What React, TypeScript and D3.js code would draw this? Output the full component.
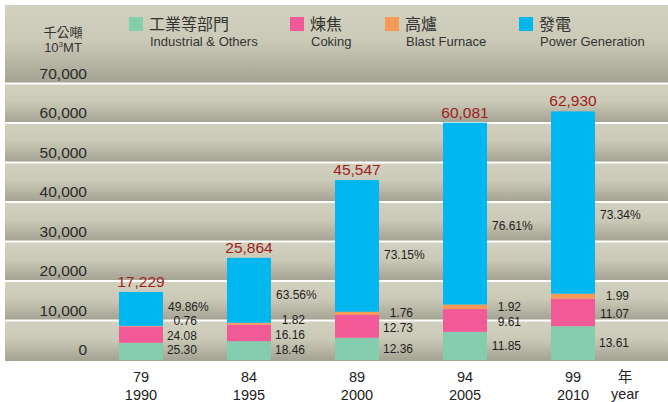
import React from "react";
import * as d3 from "d3";

const rocYears = ["79", "84", "89", "94", "99"];
const years = ["1990", "1995", "2000", "2005", "2010"];
const totals = [17229, 25864, 45547, 60081, 62930];
const industrialPct = [25.3, 18.46, 12.36, 11.85, 13.61];
const cokingPct = [24.08, 16.16, 12.73, 9.61, 11.07];
const blastPct = [0.76, 1.82, 1.76, 1.92, 1.99];
const powerPct = [49.86, 63.56, 73.15, 76.61, 73.34];
const yTicks = [0, 10000, 20000, 30000, 40000, 50000, 60000, 70000];

const keys = ["industrial", "coking", "blast", "power"];
const seriesNames = [
  { zh: "工業等部門", en: "Industrial & Others" },
  { zh: "煉焦", en: "Coking" },
  { zh: "高爐", en: "Blast Furnace" },
  { zh: "發電", en: "Power Generation" },
];
const colors = ["#84cdae", "#f25a97", "#f79a58", "#00b8ef"];
const legendX = [129, 290, 385, 519];

const W = 668;
const H = 402;
const FONT = "'Liberation Sans', Arial, sans-serif";
const CJK = "'Noto Sans CJK TC', 'Noto Sans CJK SC', sans-serif";

export default function App() {
  const panelLeft = 5;
  const panelTop = 5;
  const y = d3.scaleLinear().domain([0, 70000]).range([360, 83.5]);
  const x = d3.scaleBand<string>().domain(years).range([87, 627]).paddingInner(0.5926).paddingOuter(0.296);

  const rows = years.map((yr, i) => ({
    year: yr,
    industrial: (totals[i] * industrialPct[i]) / 100,
    coking: (totals[i] * cokingPct[i]) / 100,
    blast: (totals[i] * blastPct[i]) / 100,
    power: (totals[i] * powerPct[i]) / 100,
  }));
  const stacked = d3.stack<any>().keys(keys)(rows);
  const pctArrays = [industrialPct, cokingPct, blastPct, powerPct];

  // bands between gridlines
  const bandEdges = [panelTop, ...yTicks.slice(1).reverse().map((t) => y(t)), y(0)];
  // bandEdges: top, 70k, 60k, ... 10k, 0
  const bands: [number, number][] = [];
  const edgesSorted = [panelTop, ...yTicks.slice(1).map((t) => y(t)).sort((a, b) => a - b), y(0) + 1];
  for (let i = 0; i < edgesSorted.length - 1; i++) bands.push([edgesSorted[i], edgesSorted[i + 1]]);
  void bandEdges;

  return (
    <svg
      width={W}
      height={H}
      style={{ position: "absolute", left: 0, top: 0, display: "block" }}
      fontFamily={FONT}
    >
      <defs>
        <linearGradient id="band" x1="0" y1="0" x2="0" y2="1">
          <stop offset="0%" stopColor="#d2d1bf" />
          <stop offset="45%" stopColor="#cbcab8" />
          <stop offset="100%" stopColor="#a3a191" />
        </linearGradient>
      </defs>
      <rect x={0} y={0} width={W} height={H} fill="#ffffff" />
      {bands.map(([a, b], i) => (
        <rect key={i} x={panelLeft} y={a} width={W - panelLeft} height={b - a} fill="url(#band)" />
      ))}
      {yTicks.slice(1).map((t) => (
        <rect key={t} x={panelLeft} y={y(t) - 1} width={W - panelLeft} height={2} fill="#ffffff" />
      ))}

      {/* y tick labels */}
      {yTicks.map((t) => (
        <text key={t} x={87} y={y(t) - 5} textAnchor="end" fontSize={15.5} fill="#2a2a2a">
          {d3.format(",")(t)}
        </text>
      ))}

      {/* header unit */}
      <text x={63} y={37} textAnchor="middle" fontSize={13} fontFamily={CJK} fill="#333">
        千公噸
      </text>
      <text x={63} y={52} textAnchor="middle" fontSize={13} fill="#333">
        10<tspan fontSize={8} dy={-5}>3</tspan>
        <tspan dy={5}>MT</tspan>
      </text>

      {/* legend */}
      {seriesNames.map((s, i) => (
        <g key={i}>
          <rect x={legendX[i]} y={17} width={14} height={14} fill={colors[i]} />
          <text x={legendX[i] + 20} y={30} fontSize={16} fontFamily={CJK} fill="#333">
            {s.zh}
          </text>
          <text x={legendX[i] + 21} y={46} fontSize={13} fill="#333">
            {s.en}
          </text>
        </g>
      ))}

      {/* bars */}
      {stacked.map((layer, k) => (
        <g key={layer.key} fill={colors[k]}>
          {layer.map((d, i) => (
            <rect
              key={i}
              x={x(years[i])}
              y={y(d[1])}
              width={x.bandwidth()}
              height={Math.max(0, y(d[0]) - y(d[1]))}
            />
          ))}
        </g>
      ))}

      {/* totals */}
      {years.map((yr, i) => (
        <text
          key={yr}
          x={(x(yr) as number) + x.bandwidth() / 2}
          y={y(totals[i]) - 5}
          textAnchor="middle"
          fontSize={15.5}
          fill="#a01d1d"
        >
          {d3.format(",")(totals[i])}
        </text>
      ))}

      {/* segment labels */}
      {years.map((yr, i) => {
        const right = (x(yr) as number) + x.bandwidth();
        const centers = stacked.map((layer, k) => {
          const d = layer[i];
          const top = y(d[1]);
          const bot = y(d[0]);
          if (k === 3) return (top + bot) / 2 + 0.07 * (bot - top);
          if (k === 1) return (top + bot) / 2 + 2;
          return (top + bot) / 2;
        });
        const ys: number[] = [];
        centers.forEach((c, k) => {
          if (k === 0) ys.push(Math.min(c, 350));
          else ys.push(Math.min(c, ys[k - 1] - 14.5));
        });
        return (
          <g key={yr} fontSize={12} fill="#1e1e1e">
            {ys.map((ly, k) =>
              k === 3 ? (
                <text key={k} x={right + 5} y={ly} dominantBaseline="central">
                  {pctArrays[k][i].toFixed(2)}%
                </text>
              ) : (
                <text key={k} x={right + 34} y={ly} textAnchor="end" dominantBaseline="central">
                  {pctArrays[k][i].toFixed(2)}
                </text>
              )
            )}
          </g>
        );
      })}

      {/* x labels */}
      {years.map((yr, i) => (
        <g key={yr} fontSize={14.5} fill="#222" textAnchor="middle">
          <text x={(x(yr) as number) + x.bandwidth() / 2} y={382}>
            {rocYears[i]}
          </text>
          <text x={(x(yr) as number) + x.bandwidth() / 2} y={400}>
            {yr}
          </text>
        </g>
      ))}
      <text x={625} y={382} textAnchor="middle" fontSize={14.5} fontFamily={CJK} fill="#222">
        年
      </text>
      <text x={625} y={399} textAnchor="middle" fontSize={14.5} fill="#222">
        year
      </text>
    </svg>
  );
}
